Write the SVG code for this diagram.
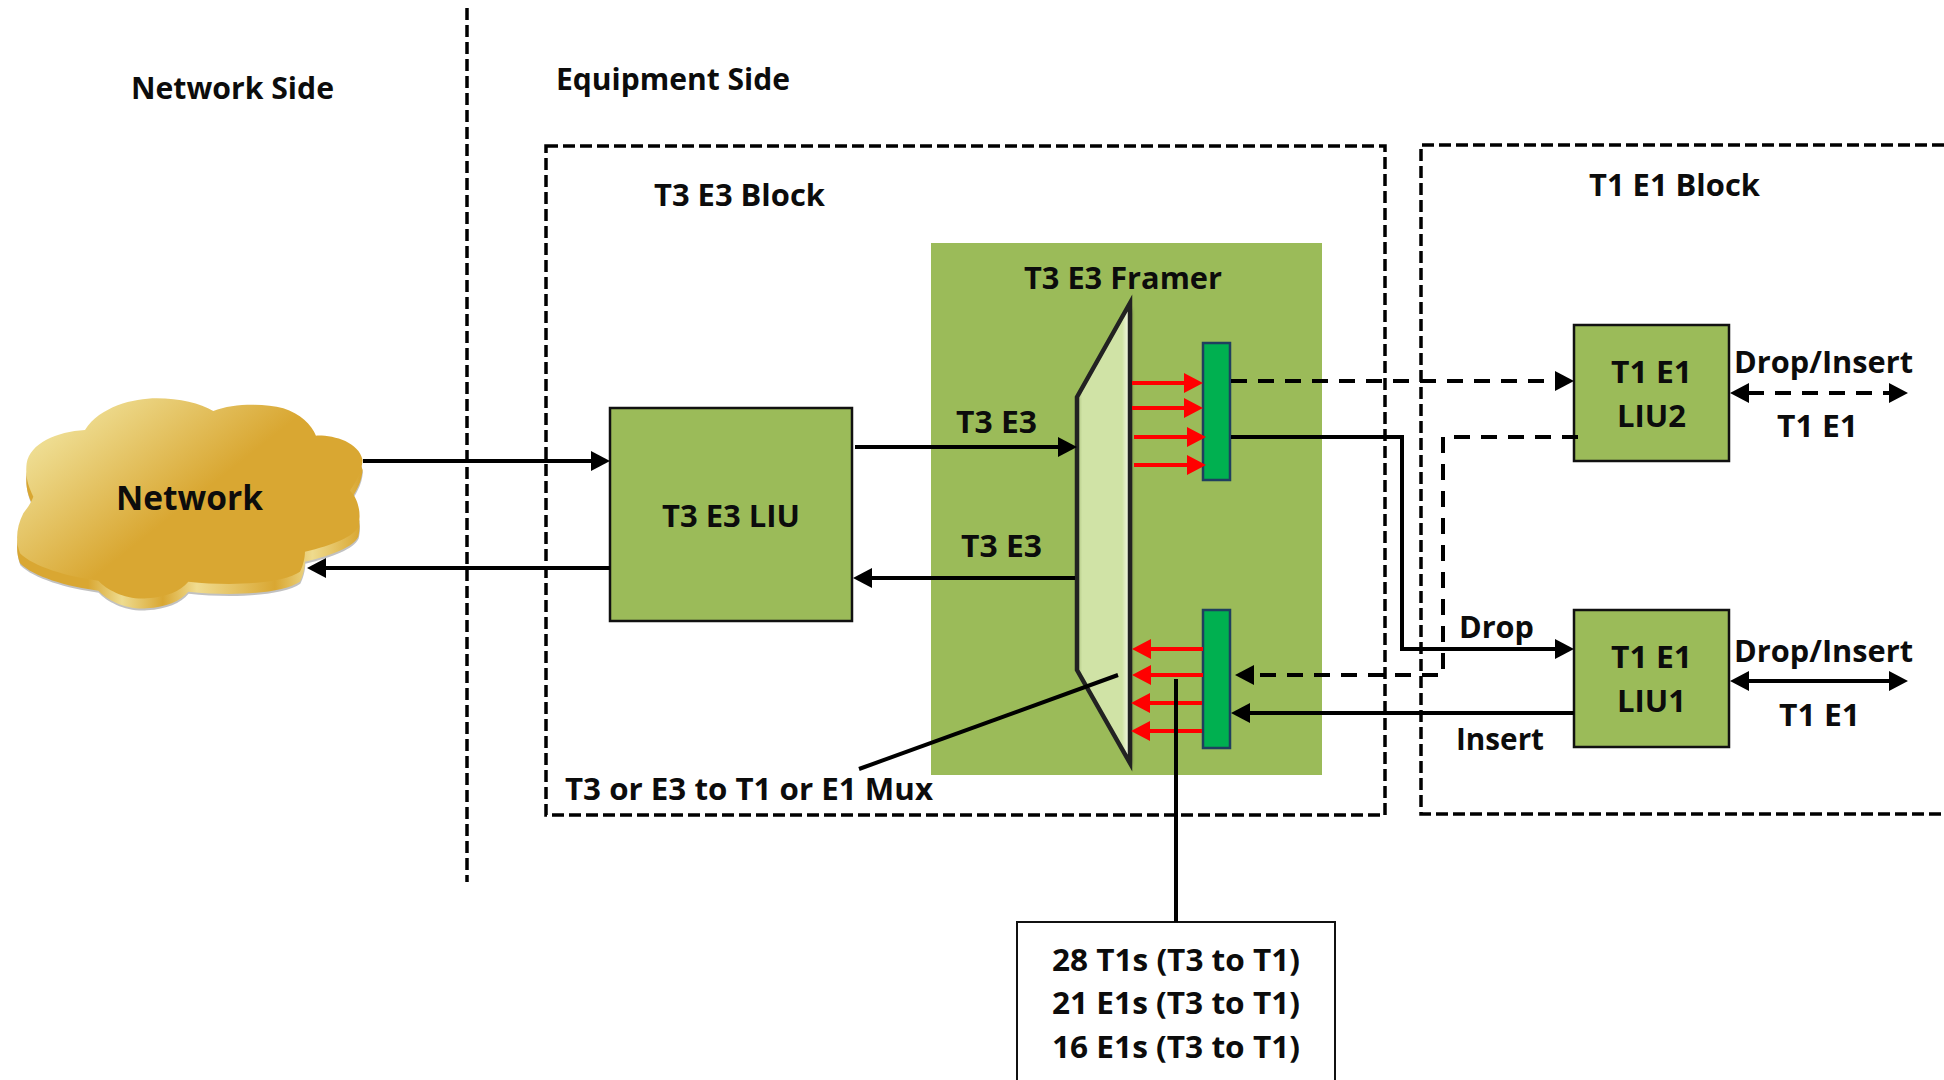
<svg xmlns="http://www.w3.org/2000/svg" width="1944" height="1080" viewBox="0 0 1944 1080">
<style>
text{font-family:"Open Sans","Liberation Sans",sans-serif;font-weight:700;font-size:31px;fill:#0c0c0c}
.b{fill:#9bbb59;stroke:#111;stroke-width:2.5}
.s{fill:none;stroke:#000;stroke-width:4}
.d{fill:none;stroke:#000;stroke-width:4;stroke-dasharray:16 11}
.v{fill:none;stroke:#000;stroke-width:3.5;stroke-dasharray:12 5}
.r{fill:none;stroke:#f00;stroke-width:4}
.g{fill:#00b050;stroke:#1f3f5f;stroke-width:2.5}
</style>
<defs>
<linearGradient id="face" gradientUnits="userSpaceOnUse" x1="250" y1="130" x2="620" y2="600"><stop offset="0" stop-color="#eedc90"/><stop offset=".68" stop-color="#d9a732"/><stop offset="1" stop-color="#d9a732"/></linearGradient>
<linearGradient id="rim" gradientUnits="userSpaceOnUse" x1="60" y1="0" x2="1080" y2="0"><stop offset="0" stop-color="#d9a732"/><stop offset=".2" stop-color="#d9a732"/><stop offset=".3" stop-color="#eedc90"/><stop offset=".42" stop-color="#d9a732"/><stop offset=".52" stop-color="#f0dc90"/><stop offset=".75" stop-color="#d9a732"/><stop offset=".86" stop-color="#efdb8e"/><stop offset="1" stop-color="#d9a732"/></linearGradient>
<linearGradient id="mux" x1="0" y1="0" x2="1" y2="0"><stop offset="0" stop-color="#a9c07a"/><stop offset=".1" stop-color="#d0e3a6"/><stop offset=".85" stop-color="#d0e3a6"/><stop offset=".97" stop-color="#f3f8e2"/><stop offset="1" stop-color="#f3f8e2"/></linearGradient>
<filter id="soft" x="-10%" y="-10%" width="120%" height="120%"><feGaussianBlur stdDeviation="1.5"/></filter>
<path id="cl" d="M80,280 C90,220 170,185 255,180 C300,110 400,85 470,85 C540,85 600,100 640,123 C700,100 790,100 850,115 C900,130 935,165 948,197 C1000,195 1075,215 1088,270 C1085,310 1065,340 1050,362 C1075,385 1085,430 1075,470 C1060,500 1000,525 915,545 C915,565 908,590 900,605 C850,640 700,650 565,635 C540,665 500,680 440,685 C380,690 320,660 295,632 C200,620 100,590 60,550 C45,510 50,470 70,430 C85,410 95,395 100,380 C85,350 75,320 80,280 Z"/>
</defs>
<rect width="1944" height="1080" fill="#fff"/>

<g id="regions">
<path class="v" d="M467,8V882"/>
<rect class="v" x="546" y="146" width="839" height="669"/>
<path class="v" d="M1944,145H1421V814H1944"/>
</g>

<g id="network">
<g transform="translate(0,370) scale(.3333)">
<use href="#cl" transform="translate(1,36)" fill="#999" opacity=".6" filter="url(#soft)"/>
<use href="#cl" transform="translate(0,30)" fill="url(#rim)"/>
<use href="#cl" fill="url(#face)"/>
</g>
<text x="116" y="510" style="font-size:34px" textLength="147" lengthAdjust="spacingAndGlyphs">Network</text>
</g>

<g id="framer">
<rect x="931" y="243" width="391" height="532" fill="#9bbb59"/>
<text x="1024" y="289" textLength="198" lengthAdjust="spacingAndGlyphs">T3 E3 Framer</text>
</g>

<g id="mux">
<path d="M1080,400 L1132,308 V766 L1080,674Z" fill="#333" opacity=".5" filter="url(#soft)"/>
<path d="M1077,397 L1130,303 V763 L1077,670Z" fill="url(#mux)" stroke="#222" stroke-width="4.5"/>
</g>

<g id="drop-bank"><rect class="g" x="1203" y="343" width="27" height="137"/></g>
<g id="insert-bank"><rect class="g" x="1203" y="610" width="27" height="138"/></g>

<g id="liu"><rect class="b" x="610" y="408" width="242" height="213"/><text x="662" y="527" textLength="138" lengthAdjust="spacingAndGlyphs">T3 E3 LIU</text></g>
<g id="liu2"><rect class="b" x="1574" y="325" width="155" height="136"/><text x="1611" y="383" textLength="81" lengthAdjust="spacingAndGlyphs">T1 E1</text><text x="1617" y="427" textLength="69" lengthAdjust="spacingAndGlyphs">LIU2</text></g>
<g id="liu1"><rect class="b" x="1574" y="610" width="155" height="137"/><text x="1611" y="668" textLength="81" lengthAdjust="spacingAndGlyphs">T1 E1</text><text x="1617" y="712" textLength="69" lengthAdjust="spacingAndGlyphs">LIU1</text></g>

<g id="note">
<rect x="1017" y="922" width="318" height="170" fill="#fff" stroke="#111" stroke-width="2"/>
<text x="1052" y="971" textLength="248" lengthAdjust="spacingAndGlyphs">28 T1s (T3 to T1)</text>
<text x="1052" y="1014" textLength="248" lengthAdjust="spacingAndGlyphs">21 E1s (T3 to T1)</text>
<text x="1052" y="1058" textLength="248" lengthAdjust="spacingAndGlyphs">16 E1s (T3 to T1)</text>
</g>

<g id="connectors">
<path class="s" d="M363,461H592"/><path d="M610,461l-19,-10v20z"/>
<path class="s" d="M610,568H325"/><path d="M307,568l19,-10v20z"/>
<path class="s" d="M855,447H1058"/><path d="M1077,447l-19,-10v20z"/>
<path class="s" d="M1075,578H871"/><path d="M853,578l19,-10v20z"/>
<path class="r" d="M1132,383H1186M1132,408H1186M1134,437H1188M1134,465H1188M1203,649H1149M1203,675H1149M1202,703H1148M1202,731H1148"/>
<g fill="#f00"><path d="M1203,383l-19,-10v20zM1203,408l-19,-10v20zM1206,437l-19,-10v20zM1206,465l-19,-10v20zM1132,649l19,-10v20zM1132,675l19,-10v20zM1131,703l19,-10v20zM1131,731l19,-10v20z"/></g>
<path class="d" d="M1231,381H1556"/><path d="M1574,381l-19,-10v20z"/>
<path class="s" d="M1231,437H1402V649H1556"/><path d="M1574,649l-19,-10v20z"/>
<path class="d" d="M1578,437H1443V675H1258"/><path d="M1235,675l19,-10v20z"/>
<path class="s" d="M1574,713H1249"/><path d="M1231,713l19,-10v20z"/>
<path class="d" d="M1748,393H1890"/><path d="M1730,393l19,-10v20zM1908,393l-19,-10v20z"/>
<path class="s" d="M1748,681H1890"/><path d="M1730,681l19,-10v20zM1908,681l-19,-10v20z"/>
<path class="s" d="M1118,675L859,769"/>
<path class="s" d="M1176,679V922"/>
</g>

<g id="labels">
<text x="131" y="99" textLength="203" lengthAdjust="spacingAndGlyphs">Network Side</text>
<text x="556" y="90" textLength="234" lengthAdjust="spacingAndGlyphs">Equipment Side</text>
<text x="654" y="206" textLength="171" lengthAdjust="spacingAndGlyphs">T3 E3 Block</text>
<text x="1589" y="196" textLength="171" lengthAdjust="spacingAndGlyphs">T1 E1 Block</text>
<text x="956" y="433" textLength="81" lengthAdjust="spacingAndGlyphs">T3 E3</text>
<text x="961" y="557" textLength="81" lengthAdjust="spacingAndGlyphs">T3 E3</text>
<text x="565" y="800" textLength="368" lengthAdjust="spacingAndGlyphs">T3 or E3 to T1 or E1 Mux</text>
<text x="1734" y="373" textLength="179" lengthAdjust="spacingAndGlyphs">Drop/Insert</text>
<text x="1777" y="437" textLength="81" lengthAdjust="spacingAndGlyphs">T1 E1</text>
<text x="1734" y="662" textLength="179" lengthAdjust="spacingAndGlyphs">Drop/Insert</text>
<text x="1779" y="726" textLength="81" lengthAdjust="spacingAndGlyphs">T1 E1</text>
<text x="1459" y="638" textLength="75" lengthAdjust="spacingAndGlyphs">Drop</text>
<text x="1456" y="750" textLength="88" lengthAdjust="spacingAndGlyphs">Insert</text>
</g>
</svg>
